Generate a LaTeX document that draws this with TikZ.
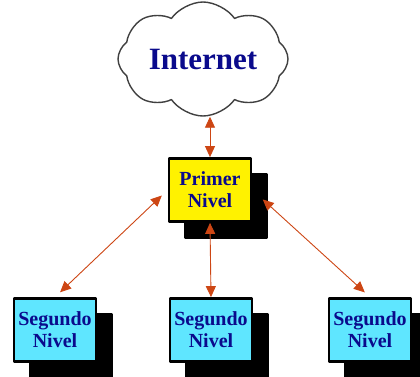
\documentclass[tikz,border=0pt]{standalone}
\usepackage{fontspec}
\setmainfont{Liberation Serif}
\usepackage{tikz}
\usetikzlibrary{arrows.meta,shapes.symbols,shadows}

\definecolor{flecha}{RGB}{205,70,20}
\definecolor{azul}{RGB}{10,10,140}
\definecolor{celeste}{RGB}{95,230,255}

\begin{document}
\begin{tikzpicture}[line cap=round,line join=round,>={Triangle[length=11pt,width=10pt]},x=1pt,y=-1pt,
  nivel/.style={draw=black,line width=2.8pt,minimum width=82pt,minimum height=63pt,inner sep=0pt,
    align=center,text=azul,font=\fontsize{20}{22}\selectfont\bfseries,
    copy shadow={shadow xshift=16pt,shadow yshift=-16pt,fill=black,draw=black}},
  enlace/.style={<->,draw=flecha,line width=0.9pt}]
\useasboundingbox (0,0) rectangle (420,376);
\node[cloud,cloud ignores aspect,draw=black!75,line width=1.4pt,fill=white,cloud puffs=8,cloud puff arc=110,
  minimum width=170pt,minimum height=114pt,inner sep=0pt,text=azul,
  font=\fontsize{31}{31}\selectfont\bfseries] (inet) at (203,59) {Internet};
\node[nivel,fill=yellow] (primer) at (210,190) {Primer\\Nivel};
\node[nivel,fill=celeste] (seg1) at (55,330) {Segundo\\Nivel};
\node[nivel,fill=celeste] (seg2) at (211,330) {Segundo\\Nivel};
\node[nivel,fill=celeste] (seg3) at (370,330) {Segundo\\Nivel};
\draw[enlace] (primer.north |- inet.south) -- (primer.north);
\draw[enlace] (primer.south) -- (seg2.north);
\draw[enlace,shorten <=8pt,shorten >=7pt] (primer.west) -- (seg1.north);
\draw[enlace,shorten <=14pt,shorten >=7pt] (primer.east) -- (seg3.north);
\end{tikzpicture}
\end{document}
